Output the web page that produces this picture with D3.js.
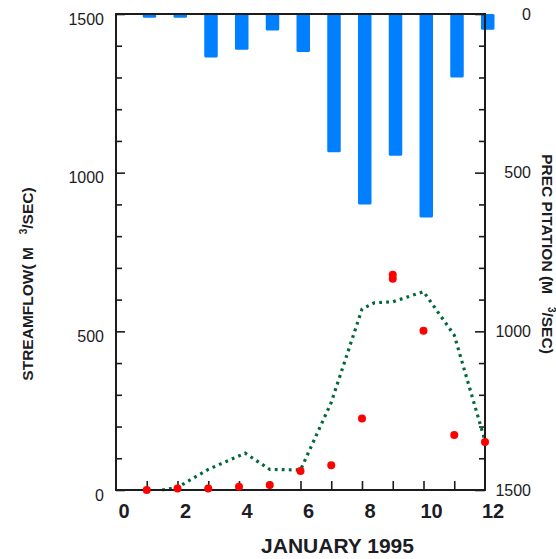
<!DOCTYPE html>
<html>
<head>
<meta charset="utf-8">
<script src="https://cdn.jsdelivr.net/npm/d3@7/dist/d3.min.js"></script>
<style>
  html, body { margin: 0; padding: 0; background: #fff; }
  svg { display: block; }
  text { font-family: "Liberation Sans", Arial, sans-serif; fill: #1c1c24; }
</style>
</head>
<body>
<svg id="chart" width="556" height="559"></svg>
<script>
// ---- data ----
const days = [1, 2, 3, 4, 5, 6, 7, 8, 9, 10, 11, 12];
const precipitation = [12, 12, 137, 113, 52, 120, 436, 600, 447, 641, 200, 50];
const obsDays = [1, 2, 3, 4, 5, 6, 7, 8, 9, 9, 10, 11, 12];
const obsFlow = [0, 5, 5, 10, 16, 60, 78, 225, 678, 666, 502, 173, 151];
const simDays = [1.5, 2, 3, 4.2, 5, 6, 7, 8, 8.4, 9, 10, 11, 12];
const simFlow = [0, 8, 65, 116, 65, 63, 276, 570, 590, 593, 625, 488, 155];
const xTickLabels = [0, 2, 4, 6, 8, 10, 12];
const yTickLabels = [0, 500, 1000, 1500];
const xTitle = "JANUARY 1995";

// ---- layout ----
const L = 116, R = 485, T = 14, B = 490;
const svg = d3.select("#chart");

const x = d3.scaleLinear().domain([0, 12]).range([L, R]);
const y = d3.scaleLinear().domain([0, 1500]).range([B, T]);
const yP = d3.scaleLinear().domain([0, 1500]).range([T, B]);

// bars (precipitation, hanging from top)
const barW = 13.5, barOff = -4;
svg.append("g").selectAll("rect")
  .data(days.map((d, i) => ({ d, v: precipitation[i] })))
  .join("rect")
  .attr("x", p => x(p.d) + barOff)
  .attr("y", yP(0))
  .attr("width", barW)
  .attr("height", p => yP(p.v) - yP(0))
  .attr("rx", 1.5)
  .attr("fill", "#0080ff");

// simulated streamflow (dotted green)
const line = d3.line().x(d => x(d[0])).y(d => y(d[1]));
svg.append("path")
  .attr("d", line(simDays.map((d, i) => [d, simFlow[i]])))
  .attr("fill", "none")
  .attr("stroke", "#00693a")
  .attr("stroke-width", 3.2)
  .attr("stroke-dasharray", "2.8,4.2");

// axes frame
const axisColor = "#1c1c1c";
const minor = d3.range(0, 1501, 100).filter(v => v % 500 !== 0);

function styleAxis(g) {
  g.select(".domain").remove();
  g.selectAll("line").attr("stroke", axisColor).attr("stroke-width", 1.6);
}

// left axis
const gL = svg.append("g").attr("transform", `translate(${L},0)`);
gL.call(d3.axisLeft(y).tickValues(minor).tickSize(-6).tickFormat(""));
gL.call(g => styleAxis(g));
const gL2 = svg.append("g").attr("transform", `translate(${L},0)`);
gL2.call(d3.axisLeft(y).tickValues(yTickLabels).tickSize(-9).tickPadding(12).tickFormat(d3.format("d")));
styleAxis(gL2);
gL2.selectAll("text").attr("font-size", 16).attr("dy", "0.32em").attr("y", 5)
  .style("font-family", "'Liberation Sans', Arial, sans-serif").attr("fill", "#1c1c24");

// right axis
const gR = svg.append("g").attr("transform", `translate(${R},0)`);
gR.call(d3.axisRight(yP).tickValues(minor).tickSize(-6).tickFormat(""));
styleAxis(gR);
const gR2 = svg.append("g").attr("transform", `translate(${R},0)`);
gR2.call(d3.axisRight(yP).tickValues(yTickLabels).tickSize(-10).tickFormat(d3.format("d")));
styleAxis(gR2);
gR2.selectAll("text").attr("font-size", 16).attr("text-anchor", "end").attr("x", 46)
  .style("font-family", "'Liberation Sans', Arial, sans-serif").attr("fill", "#1c1c24");

// bottom axis
const gB = svg.append("g").attr("transform", `translate(0,${B})`);
gB.call(d3.axisBottom(x).tickValues(d3.range(1, 12)).tickSize(-9).tickFormat(""));
styleAxis(gB);
const gB2 = svg.append("g").attr("transform", `translate(0,${B})`);
gB2.call(d3.axisBottom(x).tickValues(xTickLabels).tickSize(0).tickFormat(d3.format("d")));
styleAxis(gB2);
gB2.selectAll("text").attr("font-size", 20).attr("font-weight", "bold")
  .attr("y", 28).attr("dy", null).attr("dx", 7.5)
  .style("font-family", "'Liberation Sans', Arial, sans-serif").attr("fill", "#1c1c24");

// frame
svg.append("rect")
  .attr("x", L).attr("y", T).attr("width", R - L).attr("height", B - T)
  .attr("fill", "none").attr("stroke", axisColor).attr("stroke-width", 2);

// observed streamflow (red dots)
svg.append("g").selectAll("circle")
  .data(obsDays.map((d, i) => [d, obsFlow[i]]))
  .join("circle")
  .attr("cx", d => x(d[0]))
  .attr("cy", d => y(d[1]))
  .attr("r", 4)
  .attr("fill", "#ff0000");

// titles
svg.append("text")
  .attr("x", (L + R) / 2 + 37).attr("y", 553)
  .attr("text-anchor", "middle")
  .attr("font-size", 21).attr("font-weight", "bold")
  .text(xTitle);

const lt = svg.append("text")
  .attr("transform", "translate(33,284) rotate(-90)")
  .attr("text-anchor", "middle")
  .attr("font-size", 15.5).attr("font-weight", "bold")
  .style("white-space", "pre");
lt.append("tspan").text("STREAMFLOW( M\u00A0\u00A0 ");
lt.append("tspan").attr("font-size", 10).attr("dy", -6).text("3");
lt.append("tspan").attr("dy", 6).text("/SEC)");

const rt = svg.append("text")
  .attr("transform", "translate(542,254) rotate(90)")
  .attr("text-anchor", "middle")
  .attr("font-size", 15.5).attr("font-weight", "bold")
  .style("white-space", "pre");
rt.append("tspan").text("PREC PITATION (M\u00A0\u00A0 ");
rt.append("tspan").attr("font-size", 10).attr("dy", -6).text("3");
rt.append("tspan").attr("dy", 6).text("/SEC)");
</script>
</body>
</html>
